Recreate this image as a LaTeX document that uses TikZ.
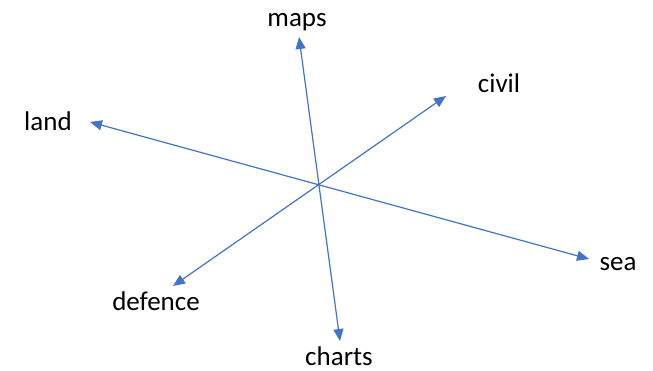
\documentclass[tikz,border=0pt]{standalone}
\usepackage{fontspec}
\setmainfont{Carlito}
\usetikzlibrary{arrows.meta}
\definecolor{axisblue}{HTML}{4472C4}
\begin{document}
\begin{tikzpicture}[x=1pt,y=-1pt,
  axis/.style={draw=axisblue,line width=1.2pt,{Triangle[length=12pt,width=10pt]}-{Triangle[length=12pt,width=10pt]}},
  lbl/.style={font=\fontsize{27}{32}\selectfont,text=black,inner sep=0pt,anchor=base}]
\useasboundingbox (0,0) rectangle (653,370);
% arrow tips
\coordinate (tmaps) at (299,37);
\coordinate (tcharts) at (340,341);
\coordinate (tland) at (90,122);
\coordinate (tsea) at (589,259);
\coordinate (tcivil) at (446,96);
\coordinate (tdefence) at (173,286);
% axes
\draw[axis] (tmaps) -- (tcharts);
\draw[axis] (tland) -- (tsea);
\draw[axis] (tcivil) -- (tdefence);
% labels
\node[lbl] (maps) at (297,26) {maps};
\node[lbl] (charts) at (339,365) {charts};
\node[lbl] (land) at (48,130) {land};
\node[lbl] (sea) at (618,270) {sea};
\node[lbl] (civil) at (499,92) {civil};
\node[lbl] (defence) at (156,310) {defence};
\end{tikzpicture}
\end{document}
